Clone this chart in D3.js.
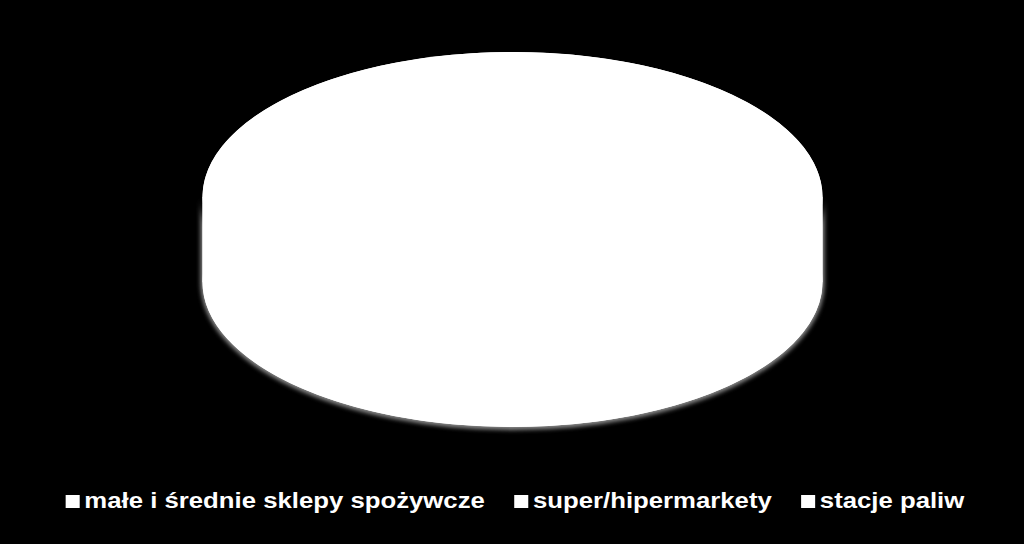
<!DOCTYPE html>
<html>
<head>
<meta charset="utf-8">
<script src="https://cdn.jsdelivr.net/npm/d3@7"></script>
<style>
  html, body { margin: 0; padding: 0; background: #000; }
  svg { display: block; }
</style>
</head>
<body>
<div class="pieChart"></div>
<script>
// data
const categories = ["małe i średnie sklepy spożywcze", "super/hipermarkety", "stacje paliw"];
const shares = [62, 30, 8];
const sliceColors = ["#ffffff", "#ffffff", "#ffffff"];

const width = 1024, height = 544;
const cx = 512.5, cy = 197;    // top face centre
const rx = 310, ry = 145;      // top face radii
const depth = 85;              // wall height

const svg = d3.select(".pieChart")
  .append("svg")
  .attr("width", width)
  .attr("height", height);

svg.append("rect").attr("width", width).attr("height", height).attr("fill", "#000");

const defs = svg.append("defs");
defs.append("filter")
  .attr("id", "soft")
  .attr("x", "-10%").attr("y", "-10%").attr("width", "120%").attr("height", "130%")
  .append("feGaussianBlur")
  .attr("stdDeviation", 2.2);

const pie = d3.pie().sort(null).value(d => d.value);
const arcs = pie(categories.map((c, i) => ({ name: c, value: shares[i], color: sliceColors[i] })));

// point on ellipse for a d3 angle (0 at top, clockwise)
const px = (a, r) => cx + Math.sin(a) * r;
const py = (a, r2, y0) => y0 - Math.cos(a) * r2;

// wall path for the front part of one slice
function wallPath(a0, a1, ex) {
  const lo = Math.max(a0, Math.PI / 2), hi = Math.min(a1, Math.PI * 1.5);
  if (hi <= lo) return null;
  const R = rx + ex, Ry = ry + ex;
  const yTop = cy, yBot = cy + depth;
  const large = hi - lo > Math.PI ? 1 : 0;
  return "M" + px(lo, R) + "," + py(lo, Ry, yTop) +
    "A" + R + "," + Ry + " 0 " + large + " 1 " + px(hi, R) + "," + py(hi, Ry, yTop) +
    "L" + px(hi, R) + "," + py(hi, Ry, yBot) +
    "A" + R + "," + Ry + " 0 " + large + " 0 " + px(lo, R) + "," + py(lo, Ry, yBot) + "Z";
}

// soft grey shadow round the lower rim
svg.append("path")
  .attr("d", wallPath(Math.PI / 2, Math.PI * 1.5, 2))
  .attr("transform", "translate(0,1)")
  .attr("fill", "#8a8a8a")
  .attr("filter", "url(#soft)");

// white base under the slices (overlapping shapes, so no anti-alias seams)
const base = svg.append("g").attr("fill", "#fff");
base.append("ellipse")
  .attr("cx", cx).attr("cy", cy + depth)
  .attr("rx", rx).attr("ry", ry);
base.append("rect")
  .attr("x", cx - rx).attr("y", cy)
  .attr("width", rx * 2).attr("height", depth);
base.append("ellipse")
  .attr("cx", cx).attr("cy", cy)
  .attr("rx", rx).attr("ry", ry);

// walls
svg.append("g")
  .selectAll("path")
  .data(arcs)
  .join("path")
  .attr("d", d => wallPath(d.startAngle, d.endAngle, 0))
  .attr("fill", d => d.data.color);

// top face: circle arcs squashed into the ellipse
const arcGen = d3.arc().innerRadius(0).outerRadius(rx);
svg.append("g")
  .attr("transform", `translate(${cx},${cy}) scale(1,${ry / rx})`)
  .selectAll("path")
  .data(arcs)
  .join("path")
  .attr("d", arcGen)
  .attr("fill", d => d.data.color);

// legend (the source image is stretched horizontally, so the legend is too)
const stretch = 1.17;
const legend = svg.append("g").attr("class", "legend");
const items = legend.selectAll("g")
  .data(arcs)
  .join("g");

items.append("rect")
  .attr("width", 12)
  .attr("height", 13)
  .attr("y", 495)
  .attr("fill", d => d.data.color);

items.append("text")
  .attr("x", 16)
  .attr("y", 508)
  .attr("fill", "#fff")
  .style("font-family", "Liberation Sans, Arial, sans-serif")
  .style("font-weight", "bold")
  .style("font-size", "22px")
  .text(d => d.data.name);

const gap = 25;
let widths = [];
items.each(function () {
  widths.push(16 + d3.select(this).select("text").node().getComputedTextLength());
});
const total = d3.sum(widths) + gap * (widths.length - 1);
let xPos = 0;
items.attr("transform", (d, i) => {
  const t = `translate(${xPos},0)`;
  xPos += widths[i] + gap;
  return t;
});
legend.attr("transform", `translate(${515 - total * stretch / 2},0) scale(${stretch},1)`);
</script>
</body>
</html>
